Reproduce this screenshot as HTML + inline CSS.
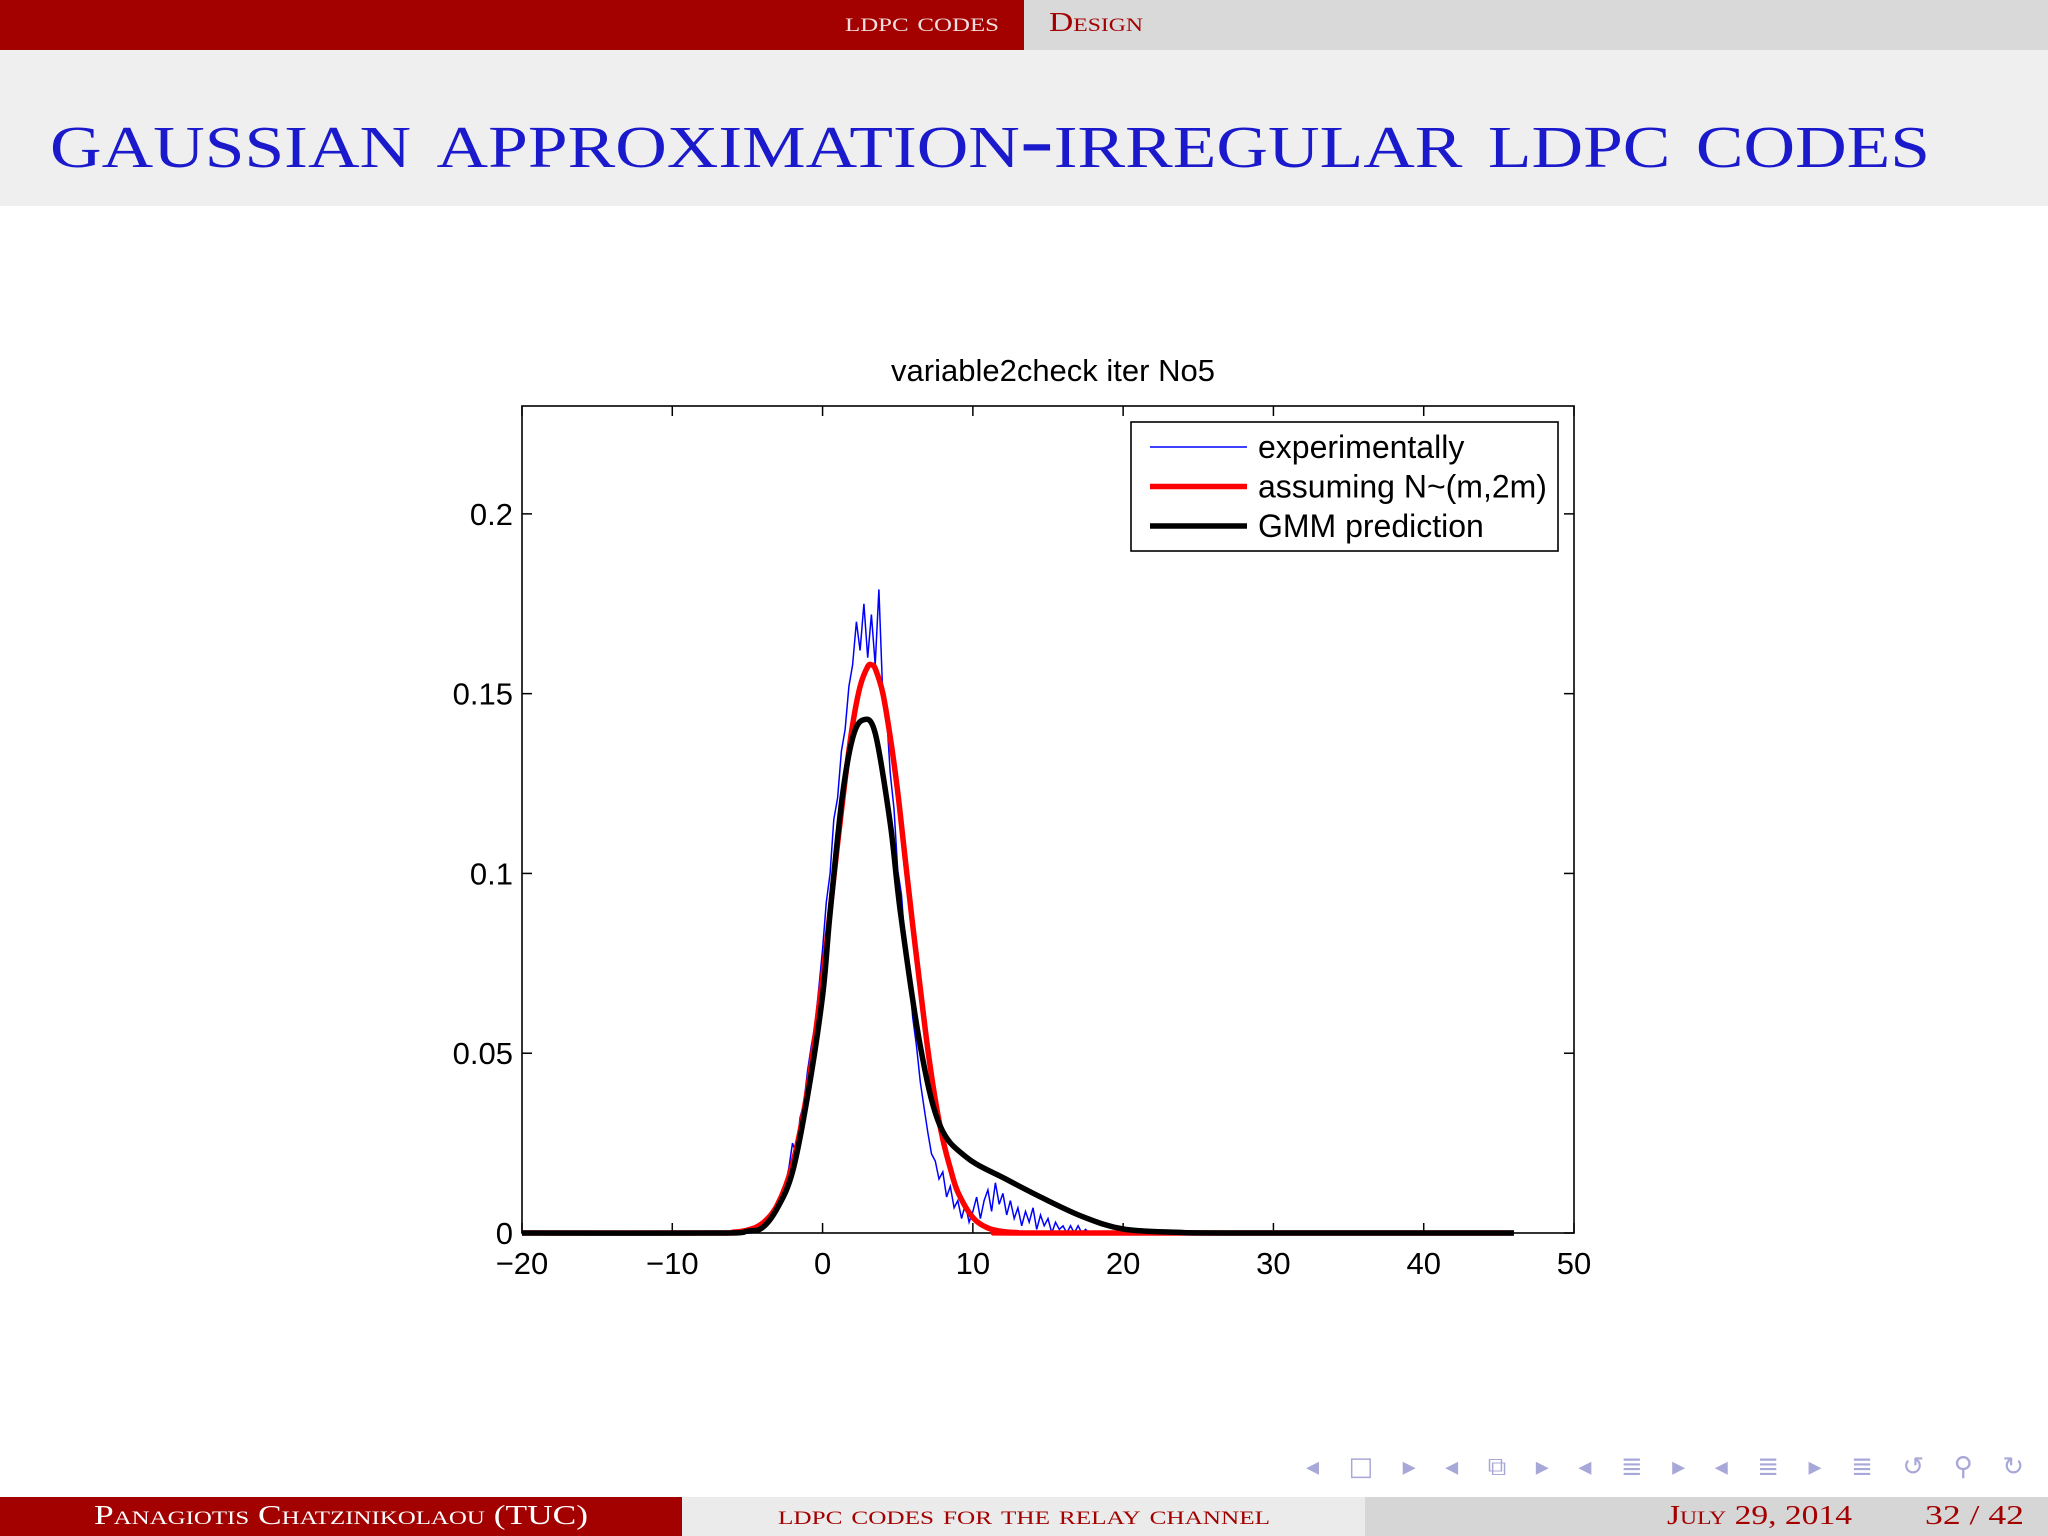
<!DOCTYPE html>
<html><head><meta charset="utf-8"><style>
html,body{margin:0;padding:0;background:#fff;}
svg{display:block;}
.ax{font-family:"Liberation Sans",Arial,sans-serif;}
.sf{font-family:"Liberation Serif","DejaVu Serif",serif;font-variant:small-caps;}
</style></head><body>
<svg id="page" width="2048" height="1536" viewBox="0 0 2048 1536" xmlns="http://www.w3.org/2000/svg">
<rect width="2048" height="1536" fill="#fff"/>
<g>
<rect x="0" y="0" width="1024" height="50" fill="#a30000"/>
<rect x="1024" y="0" width="1024" height="50" fill="#d9d9d9"/>
<text class="sf" x="845" y="31" font-size="27" fill="#f2dede" textLength="154" lengthAdjust="spacingAndGlyphs">ldpc codes</text>
<text class="sf" x="1049" y="31" font-size="27" fill="#a30000" textLength="94" lengthAdjust="spacingAndGlyphs">Design</text>
</g>
<rect x="0" y="50" width="2048" height="156" fill="#efefef"/>
<text class="sf" x="50" y="167" font-size="84" fill="#1a1acc" textLength="1880" lengthAdjust="spacingAndGlyphs">gaussian approximation-irregular ldpc codes</text>

<g id="chart"></g>

<g fill="#a8a8d8" font-family="DejaVu Sans,sans-serif" font-size="26">
<text x="1306" y="1475" textLength="718" lengthAdjust="spacing">◂ □ ▸  ◂ ⧉ ▸  ◂ ≣ ▸  ◂ ≣ ▸   ≣   ↺ ⚲ ↻</text>
</g>
<g>
<rect x="0" y="1497" width="682" height="39" fill="#a30000"/>
<rect x="682" y="1497" width="683" height="39" fill="#ebebeb"/>
<rect x="1365" y="1497" width="683" height="39" fill="#d6d6d6"/>
<text class="sf" x="94" y="1524" font-size="27" fill="#fff" textLength="494" lengthAdjust="spacingAndGlyphs">Panagiotis Chatzinikolaou  (TUC)</text>
<text class="sf" x="778" y="1524" font-size="27" fill="#a30000" textLength="492" lengthAdjust="spacingAndGlyphs">ldpc codes for the relay channel</text>
<text class="sf" x="1667" y="1524" font-size="27" fill="#a30000" textLength="185" lengthAdjust="spacingAndGlyphs">July 29, 2014</text>
<text class="sf" x="1925" y="1524" font-size="27" fill="#a30000" textLength="99" lengthAdjust="spacingAndGlyphs">32 / 42</text>
</g>
</svg>
<script>
const xTicks=[-20,-10,0,10,20,30,40,50];
const yTicks=[0,0.05,0.1,0.15,0.2];
const yTickLabels=["0","0.05","0.1","0.15","0.2"];
const redX=[-20,-7,-6,-5,-4,-3,-2,-1,0,0.5,1,1.5,2,2.5,3,3.25,3.5,4,4.5,5,5.5,6,6.5,7,7.5,8,8.5,9,10,11,12,13,14,46];
const redY=[0,0,0.0002,0.0008,0.0027,0.0079,0.0191,0.0398,0.0710,0.0895,0.1083,0.126,0.1413,0.152,0.1575,0.158,0.157,0.1503,0.138,0.1227,0.104,0.0856,0.068,0.0511,0.037,0.0261,0.018,0.0114,0.0043,0.0014,0.0004,0.0001,0,0];
const blackX=[-20,-7,-5,-4,-3,-2,-1,0,0.5,1.3,2,2.7,3.5,4.5,5.2,6.5,7.8,9.6,12.2,14.8,17.4,20,23.5,27,46];
const blackY=[0,0,0.0005,0.0015,0.007,0.017,0.038,0.066,0.089,0.121,0.1376,0.1427,0.139,0.114,0.0886,0.052,0.030,0.021,0.015,0.0094,0.0044,0.0011,0.0002,0,0];
const blueY=[0,0,.001,.001,.002,.003,.004,.006,.008,.010,.013,.018,.025,.022,.032,.036,.045,.052,.058,.068,.079,.092,.100,.115,.121,.134,.140,.152,.158,.170,.162,.175,.160,.172,.158,.179,.150,.145,.128,.118,.101,.094,.080,.072,.060,.052,.042,.035,.028,.022,.020,.015,.017,.010,.013,.007,.009,.004,.008,.003,.006,.010,.004,.009,.012,.006,.014,.008,.011,.005,.009,.004,.007,.002,.006,.003,.007,.001,.005,.002,.004,0,.003,.001,.002,0,.002,0,.002,0,.001,0,0];
const blueStart=-5, blueStep=0.25;
const L=522,R=1574,T=406,B=1233,XMIN=-20,XMAX=50,YMAX=0.23;
const sx=v=>L+(v-XMIN)/(XMAX-XMIN)*(R-L);
const sy=v=>B-v/YMAX*(B-T);
const NS="http://www.w3.org/2000/svg";
const g=document.getElementById('chart');
function mk(tag,attrs,parent){const e=document.createElementNS(NS,tag);for(const k in attrs)e.setAttribute(k,attrs[k]);(parent||g).appendChild(e);return e;}
function smooth(xs,ys){let p=[];for(let i=0;i<xs.length;i++)p.push([sx(xs[i]),sy(ys[i])]);
 let d="M"+p[0][0].toFixed(1)+","+p[0][1].toFixed(1);
 for(let i=0;i<p.length-1;i++){const p0=p[Math.max(0,i-1)],p1=p[i],p2=p[i+1],p3=p[Math.min(p.length-1,i+2)];
  const c1=[p1[0]+(p2[0]-p0[0])/6,p1[1]+(p2[1]-p0[1])/6],c2=[p2[0]-(p3[0]-p1[0])/6,p2[1]-(p3[1]-p1[1])/6];
  d+=" C"+c1[0].toFixed(1)+","+c1[1].toFixed(1)+" "+c2[0].toFixed(1)+","+c2[1].toFixed(1)+" "+p2[0].toFixed(1)+","+p2[1].toFixed(1);}
 return d;}
const title=mk('text',{x:1053,y:381,'font-size':31,'text-anchor':'middle',class:'ax'});
title.textContent="variable2check iter No5";


const frame=mk('rect',{x:L,y:T,width:R-L,height:B-T,fill:'none',stroke:'#000','stroke-width':1.6});


xTicks.forEach(v=>{const x=sx(v);
 mk('line',{x1:x,y1:B,x2:x,y2:B-10,stroke:'#000','stroke-width':1.5});
 mk('line',{x1:x,y1:T,x2:x,y2:T+10,stroke:'#000','stroke-width':1.5});
 const t=mk('text',{x:x,y:1274,'font-size':31,'text-anchor':'middle',class:'ax'});
 t.textContent=(v<0?"\u2212"+(-v):String(v));
 
 });
yTicks.forEach((v,i)=>{const y=sy(v);
 mk('line',{x1:L,y1:y,x2:L+10,y2:y,stroke:'#000','stroke-width':1.5});
 mk('line',{x1:R,y1:y,x2:R-10,y2:y,stroke:'#000','stroke-width':1.5});
 const t=mk('text',{x:513,y:y+11,'font-size':31,'text-anchor':'end',class:'ax'});
 t.textContent=yTickLabels[i];
 
 });
let bd="M"+sx(XMIN)+","+sy(0);
for(let i=0;i<blueY.length;i++){bd+=" L"+sx(blueStart+i*blueStep).toFixed(1)+","+sy(blueY[i]).toFixed(1);}
bd+=" L"+sx(46)+","+sy(0);
const blue=mk('path',{d:bd,fill:'none',stroke:'#0000ff','stroke-width':1.5});


const red=mk('path',{d:smooth(redX,redY),fill:'none',stroke:'#ff0000','stroke-width':5.5,'stroke-linejoin':'round'});


const black=mk('path',{d:smooth(blackX,blackY),fill:'none',stroke:'#000','stroke-width':5.5,'stroke-linejoin':'round'});


const leg=mk('g',{});


mk('rect',{x:1131,y:422,width:427,height:129,fill:'#fff',stroke:'#000','stroke-width':1.6},leg);
const entries=[["experimentally","#0000ff",1.4],["assuming N~(m,2m)","#ff0000",5.5],["GMM prediction","#000",5.5]];
entries.forEach((e,i)=>{const y=447+i*39.5;
 const eg=mk('g',{},leg);
 
 
 mk('line',{x1:1150,y1:y,x2:1247,y2:y,stroke:e[1],'stroke-width':e[2]},eg);
 const t=mk('text',{x:1258,y:y+11,'font-size':32,class:'ax'},eg);
 t.textContent=e[0];});
</script>
</body></html>
